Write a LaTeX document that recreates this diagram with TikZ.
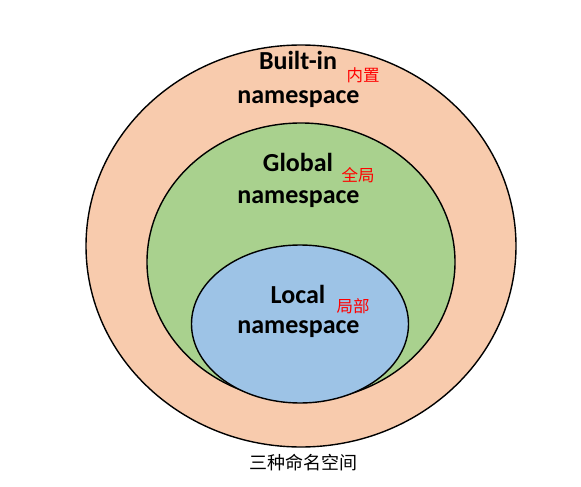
\documentclass[tikz,border=0pt]{standalone}
\usepackage{fontspec}
\setmainfont{Carlito}
\newfontfamily\cjk{Noto Sans CJK SC}
\usetikzlibrary{shapes.geometric}
\definecolor{peach}{HTML}{F8CBAD}
\definecolor{leaf}{HTML}{A9D18E}
\definecolor{sky}{HTML}{9DC3E6}
\tikzset{
  ring/.style={ellipse, draw=black, line width=1.4pt, inner sep=0pt},
  title/.style={anchor=base, font=\fontsize{26}{28}\selectfont\bfseries, inner sep=0pt},
  cnlabel/.style={font=\cjk\fontsize{16.5}{18}\selectfont, text=red, inner sep=0pt},
  caption/.style={font=\cjk\fontsize{18}{20}\selectfont, inner sep=0pt}
}
\begin{document}
\begin{tikzpicture}[x=1pt,y=-1pt]
\useasboundingbox[fill=white] (0,0) rectangle (581,487);
\node[ring, fill=peach, minimum width=430pt, minimum height=402pt] (outer) at (301,246) {};
\node[ring, fill=leaf, minimum width=308pt, minimum height=278pt] (global) at (301,262) {};
\node[ring, fill=sky, minimum width=217pt, minimum height=158pt] (local) at (300,324) {};
\node[title] (b1) at (298,70) {Built-in};
\node[title] (b2) at (298.5,103) {namespace};
\node[cnlabel] (bc) at (363,75) {内置};
\node[title] (g1) at (298,171.5) {Global};
\node[title] (g2) at (298.5,203) {namespace};
\node[cnlabel] (gc) at (358,175) {全局};
\node[title] (l1) at (298,303) {Local};
\node[title] (l2) at (298.5,333) {namespace};
\node[cnlabel] (lc) at (353,306) {局部};
\node[caption] (cap) at (303,463) {三种命名空间};
\end{tikzpicture}
\end{document}
